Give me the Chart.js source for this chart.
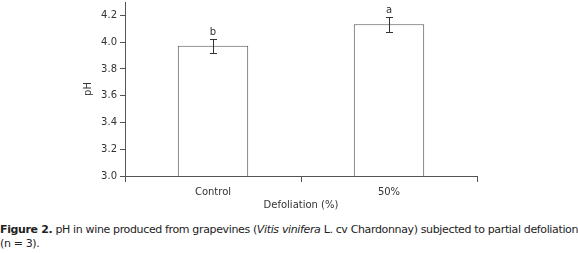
<!DOCTYPE html>
<html>
<head>
<meta charset="utf-8">
<script src="https://cdn.jsdelivr.net/npm/chart.js@4.4.0/dist/chart.umd.min.js"></script>
<style>
    body { margin: 0; background: #fff; width: 578px; height: 253px; overflow: hidden; position: relative; }
    #contenedor { position: absolute; left: 0; top: 0; width: 578px; height: 215px; }
    #leyenda {
        position: absolute; left: 0; top: 223px; width: 578px;
        font-family: "DejaVu Sans"; font-size: 11px; line-height: 14px; letter-spacing: -0.36px;
        color: #222; white-space: nowrap;
    }
</style>
</head>
<body>
<div id="contenedor"><canvas id="grafico"></canvas></div>
<div id="leyenda"><b>Figure 2.</b> pH in wine produced from grapevines (<i>Vitis vinifera</i> L. cv Chardonnay) subjected to partial defoliation<br>(n = 3).</div>
<script>
const categorias = ["Control", "50%"];
const medias = [3.974, 4.133];
const errores = [0.053, 0.058];
const letras = ["b", "a"];
const ticksY = [3.0, 3.2, 3.4, 3.6, 3.8, 4.0, 4.2];

const gris = '#555';
const texto = '#333';
const fuente = { family: 'DejaVu Sans', size: 10 };

const barrasError = {
    id: 'barrasError',
    afterDatasetsDraw(chart) {
        const ctx = chart.ctx;
        const y = chart.scales.y;
        const meta = chart.getDatasetMeta(0);
        ctx.save();
        ctx.strokeStyle = texto;
        ctx.lineWidth = 1;
        ctx.fillStyle = texto;
        ctx.font = '10px "DejaVu Sans"';
        ctx.textAlign = 'center';
        ctx.textBaseline = 'bottom';
        meta.data.forEach((barra, i) => {
            const x = Math.round(barra.x) + 0.5;
            const arriba = Math.round(y.getPixelForValue(medias[i] + errores[i])) + 0.5;
            const abajo = Math.round(y.getPixelForValue(medias[i] - errores[i])) + 0.5;
            ctx.beginPath();
            ctx.moveTo(x, arriba); ctx.lineTo(x, abajo);
            ctx.moveTo(x - 3.5, arriba); ctx.lineTo(x + 3.5, arriba);
            ctx.moveTo(x - 3.5, abajo); ctx.lineTo(x + 3.5, abajo);
            ctx.stroke();
            ctx.fillText(letras[i], barra.x, arriba - 2);
        });
        ctx.restore();
    }
};

const ctxGrafico = document.getElementById('grafico').getContext('2d');
const miGrafico = new Chart(ctxGrafico, {
    type: 'bar',
    data: {
        labels: categorias,
        datasets: [{
            data: medias,
            backgroundColor: '#fff',
            borderColor: gris,
            borderWidth: 1,
            barPercentage: 0.4,
            categoryPercentage: 1
        }]
    },
    plugins: [barrasError],
    options: {
        responsive: true,
        maintainAspectRatio: false,
        animation: false,
        layout: { padding: { left: 80, top: 2, right: 101, bottom: 0 } },
        plugins: { legend: { display: false }, tooltip: { enabled: false } },
        scales: {
            x: {
                afterFit(scale) { scale.height = 39; scale.paddingLeft = 0; scale.paddingRight = 0; },
                grid: { drawOnChartArea: false, tickLength: 6, color: gris, offset: true },
                border: { color: gris },
                ticks: { font: fuente, color: texto, padding: 4 },
                title: { display: true, text: 'Defoliation (%)', font: fuente, color: texto, padding: { top: 0, bottom: 4 } }
            },
            y: {
                min: 3.0,
                max: 4.3,
                afterFit(scale) { scale.width = 45; scale.paddingTop = 0; scale.paddingBottom = 0; },
                afterBuildTicks(scale) { scale.ticks = ticksY.map(v => ({ value: v })); },
                grid: { drawOnChartArea: false, tickLength: 5, color: gris },
                border: { color: gris },
                ticks: { font: fuente, color: texto, padding: 3, callback: v => v.toFixed(1) },
                title: { display: true, text: 'pH', font: fuente, color: texto, padding: { top: 2, bottom: 0 } }
            }
        }
    }
});
</script>
</body>
</html>
